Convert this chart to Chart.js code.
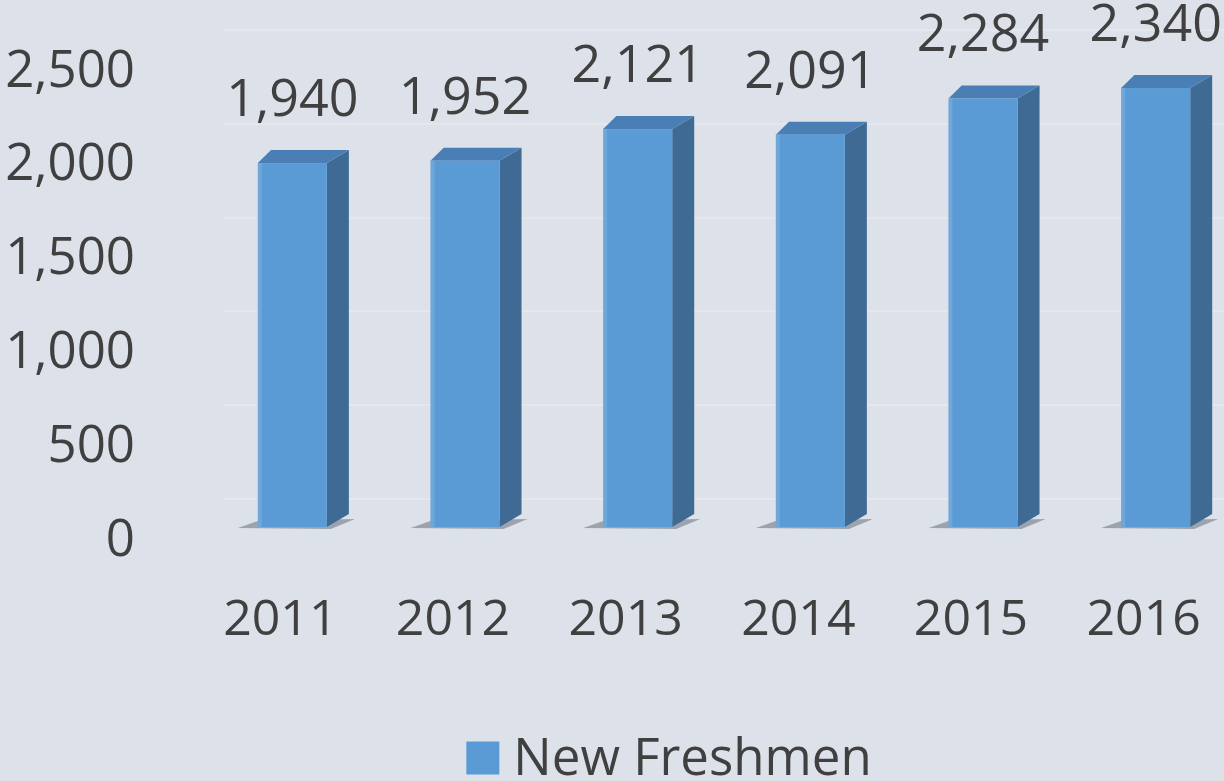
<!DOCTYPE html>
<html>
<head>
<meta charset="utf-8">
<title>New Freshmen</title>
<script src="https://cdn.jsdelivr.net/npm/chart.js@4.4.1/dist/chart.umd.min.js"></script>
<style>
  html, body { margin: 0; padding: 0; background: #dde2ea; }
  #wrap { width: 1224px; height: 781px; }
</style>
</head>
<body>
<div id="wrap"><canvas id="freshmenChart" width="1224" height="781"></canvas></div>
<script>
// Data
const years = ['2011', '2012', '2013', '2014', '2015', '2016'];
const freshmen = [1940, 1952, 2121, 2091, 2284, 2340];
const yTicks = [0, 500, 1000, 1500, 2000, 2500];
const seriesName = 'New Freshmen';

// 3D look
const faceColor = '#5b9bd5';
const sideColor = '#3f6a94';
const topColor = '#4a7fb5';
const depthX = 22, depthY = 13, shiftX = 18;
const textColor = '#404040';
const fontFamily = '"Open Sans", "DejaVu Sans", sans-serif';
const legendCenterX = 669, legendMidY = 758;

const bars3d = {
    id: 'bars3d',
    beforeDatasetsDraw(chart) {
        const ctx = chart.ctx;
        const y = chart.scales.y;
        const area = chart.chartArea;
        // faint back-wall gridlines
        ctx.save();
        ctx.strokeStyle = 'rgba(240,243,247,0.35)';
        ctx.lineWidth = 2;
        yTicks.forEach(v => {
            const py = Math.round(y.getPixelForValue(v)) - 28;
            ctx.beginPath();
            ctx.moveTo(area.left + 35, py);
            ctx.lineTo(area.right, py);
            ctx.stroke();
        });
        ctx.restore();
    },
    afterDatasetsDraw(chart) {
        const ctx = chart.ctx;
        const meta = chart.getDatasetMeta(0);
        ctx.save();
        meta.data.forEach((bar, i) => {
            const w = bar.width;
            const left = bar.x - w / 2 + shiftX;
            const right = bar.x + w / 2 + shiftX;
            const top = bar.y;
            const base = bar.base;

            // shadow at the foot
            ctx.fillStyle = 'rgba(60,70,85,0.4)';
            ctx.beginPath();
            ctx.moveTo(left - 20, base + 1);
            ctx.lineTo(left, base - 6);
            ctx.lineTo(right + depthX + 6, base - 8);
            ctx.lineTo(right + 4, base + 2);
            ctx.closePath();
            ctx.fill();

            // side
            ctx.fillStyle = sideColor;
            ctx.beginPath();
            ctx.moveTo(right, top);
            ctx.lineTo(right + depthX, top - depthY);
            ctx.lineTo(right + depthX, base - depthY);
            ctx.lineTo(right, base);
            ctx.closePath();
            ctx.fill();

            // top
            ctx.fillStyle = topColor;
            ctx.beginPath();
            ctx.moveTo(left, top);
            ctx.lineTo(left + depthX * 0.6, top - depthY);
            ctx.lineTo(right + depthX, top - depthY);
            ctx.lineTo(right, top);
            ctx.closePath();
            ctx.fill();

            // front
            ctx.fillStyle = faceColor;
            ctx.fillRect(left, top, w, base - top);
            ctx.fillStyle = 'rgba(255,255,255,0.12)';
            ctx.fillRect(left, top, 4, base - top);

            // value label
            ctx.fillStyle = textColor;
            ctx.font = '52px ' + fontFamily;
            ctx.textAlign = 'center';
            ctx.textBaseline = 'middle';
            ctx.fillText(freshmen[i].toLocaleString('en-US'), (left + right) / 2, top - 62);
        });
        ctx.restore();
    },
    afterDraw(chart) {
        // legend
        const ctx = chart.ctx;
        ctx.save();
        ctx.font = '51px ' + fontFamily;
        const tw = ctx.measureText(seriesName).width;
        const box = 33, gap = 14;
        const x0 = legendCenterX - (box + gap + tw) / 2;
        ctx.fillStyle = faceColor;
        ctx.fillRect(x0, legendMidY - box / 2, box, box);
        ctx.fillStyle = textColor;
        ctx.textAlign = 'left';
        ctx.textBaseline = 'middle';
        ctx.fillText(seriesName, x0 + box + gap, legendMidY + 2);
        ctx.restore();
    }
};

const config = {
    type: 'bar',
    data: {
        labels: years,
        datasets: [{
            label: seriesName,
            data: freshmen,
            backgroundColor: 'rgba(0,0,0,0)',
            borderWidth: 0,
            barPercentage: 0.4,
            categoryPercentage: 1.0
        }]
    },
    options: {
        responsive: false,
        animation: false,
        events: [],
        layout: { padding: { top: 58, right: 0, left: 0, bottom: 58 } },
        scales: {
            x: {
                grid: { display: false, drawTicks: false },
                border: { display: false },
                ticks: {
                    color: textColor,
                    font: { family: fontFamily, size: 50 },
                    padding: 64,
                    labelOffset: 6
                },
                afterFit(scale) {
                    scale.height = 196;
                    scale.paddingLeft = 0;
                    scale.paddingRight = 0;
                }
            },
            y: {
                min: 0,
                max: 2500,
                afterBuildTicks(scale) { scale.ticks = yTicks.map(v => ({ value: v })); },
                grid: { display: false, drawTicks: false },
                border: { display: false },
                ticks: {
                    color: textColor,
                    font: { family: fontFamily, size: 51 },
                    padding: 53,
                    labelOffset: 14,
                    callback: v => v.toLocaleString('en-US')
                },
                afterFit(scale) {
                    scale.width = 188;
                    scale.paddingTop = 0;
                    scale.paddingBottom = 0;
                }
            }
        },
        plugins: {
            legend: { display: false },
            tooltip: { enabled: false }
        }
    },
    plugins: [bars3d]
};

const freshmenChart = new Chart(document.getElementById('freshmenChart'), config);
</script>
</body>
</html>
